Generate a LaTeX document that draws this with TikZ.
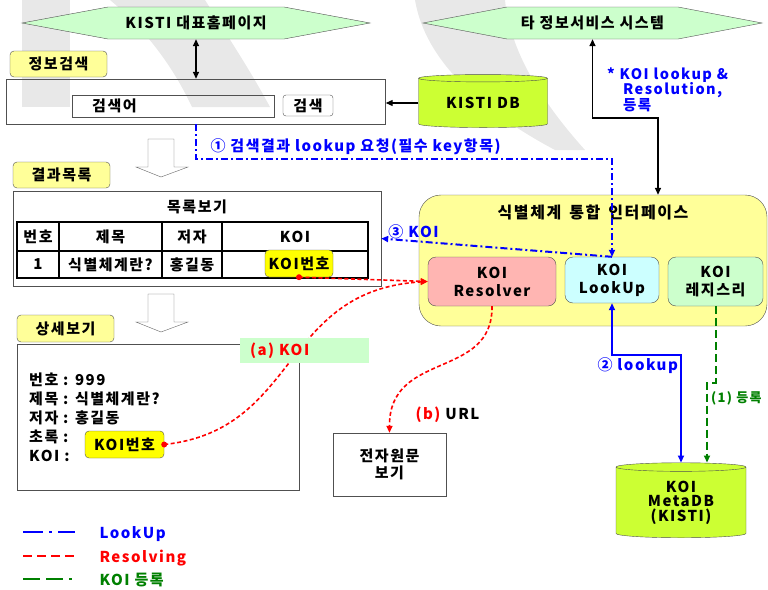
\documentclass[tikz,border=0pt]{standalone}
\usepackage{fontspec}
\setmainfont{Noto Sans CJK KR}[LetterSpace=10]
\usetikzlibrary{arrows.meta,calc,shapes.geometric}
\definecolor{hexgreen}{RGB}{204,255,204}
\definecolor{tagyellow}{RGB}{255,255,153}
\definecolor{dbgreen}{RGB}{204,255,51}
\definecolor{respink}{RGB}{255,181,178}
\definecolor{lookcyan}{RGB}{204,255,255}
\definecolor{koiyellow}{RGB}{255,255,0}
\definecolor{regdark}{RGB}{0,128,0}
\definecolor{markgray}{RGB}{232,232,232}
\definecolor{edge}{RGB}{80,80,80}
\newcommand\basefont{\fontsize{15}{18}\selectfont\bfseries}

\tikzset{
  tag/.style={draw=edge,fill=tagyellow,rounded corners=4pt,minimum width=97pt,minimum height=26pt,inner sep=0pt},
  plainbox/.style={draw=edge,minimum width=#1,inner sep=0pt},
  cell/.style={inner sep=0pt},
  module/.style={draw=edge,rounded corners=8pt,align=center,inner sep=0pt,minimum height=49pt},
  koino/.style={draw=edge,fill=koiyellow,rounded corners=4pt,minimum width=#1,minimum height=27pt,inner sep=0pt},
  dbase/.style={cylinder,shape border rotate=90,draw=edge,fill=dbgreen,inner sep=0pt,align=center},
  lookupline/.style={blue,line width=2pt,dash pattern=on 7pt off 3pt on 2pt off 3pt},
  resolveline/.style={red,line width=1.6pt,dash pattern=on 4pt off 2.5pt},
  regline/.style={regdark,line width=2pt,dash pattern=on 8pt off 4pt},
  headed/.style={-{Triangle[length=7pt,width=6pt]}},
  twohead/.style={{Triangle[length=7pt,width=6pt]}-{Triangle[length=7pt,width=6pt]}},
}

\begin{document}
\begin{tikzpicture}[x=1pt,y=-1pt,font=\basefont]
\useasboundingbox (0,0) rectangle (768,589);

% watermark behind everything
\fill[markgray] (22,0) rectangle (70,107);
\fill[markgray] (110,0) -- (205,0) .. controls (230,40) and (250,70) .. (270,107) -- (192,107) .. controls (170,60) and (140,25) .. (110,0) -- cycle;
\fill[markgray] (415,0) -- (505,0) .. controls (510,50) and (540,100) .. (585,150) -- (555,150) .. controls (480,110) and (425,60) .. (415,0) -- cycle;

% top systems
\draw[draw=edge,fill=hexgreen] (22,23) -- (108,7) -- (284,7) -- (370,23) -- (284,39) -- (108,39) -- cycle;
\node[minimum width=348pt,minimum height=32pt,inner sep=0pt] (home) at (196,23) {KISTI 대표홈페이지};
\draw[draw=edge,fill=hexgreen] (423,23) -- (507,7) -- (678,7) -- (762,23) -- (678,39) -- (507,39) -- cycle;
\node[minimum width=339pt,minimum height=32pt,inner sep=0pt] (other) at (592.5,23) {타 정보서비스 시스템};

% search
\node[tag] (tsearch) at (58.5,64) {정보검색};
\node[plainbox=379pt,minimum height=45pt] (search) at (196,101.5) {};
\node[draw=edge,anchor=west,text width=162pt,inner xsep=20pt,inner ysep=0pt,minimum height=22pt] (query) at (72,106) {검색어};
\node[draw=edge,rounded corners=3pt,minimum width=50pt,minimum height=21pt,inner sep=0pt] (go) at (308,105.5) {검색};
\node[dbase,aspect=0.1,minimum width=129pt,minimum height=53pt] (kdb) at (483,103) {KISTI DB};

% result list
\node[tag] (tresult) at (61.5,175) {결과목록};
\node[plainbox=368pt,minimum height=95pt] (result) at (197,238.5) {};
\node[cell] (listtitle) at (197,207) {목록보기};
\draw[line width=1.4pt] (17,222) rectangle (368,278);
\draw[line width=1.4pt] (17,251) -- (368,251);
\foreach \x in {59,162,222}
  \draw[line width=1.4pt] (\x,222) -- (\x,278);
\node[cell] (hno) at (38,236.5) {번호};
\node[cell] (htitle) at (110.5,236.5) {제목};
\node[cell] (hauthor) at (192,236.5) {저자};
\node[cell] (hkoi) at (295,236.5) {KOI};
\node[cell] (rno) at (38,264.5) {1};
\node[cell] (rtitle) at (110.5,264.5) {식별체계란?};
\node[cell] (rauthor) at (192,264.5) {홍길동};
\node[koino=68pt] (koirow) at (299,263.5) {KOI번호};

% step arrows
\foreach \y in {139,294}
  \draw[draw=black!60,fill=white] (148,\y) -- (174,\y) -- (174,\y+28) -- (188,\y+28) -- (161,\y+38) -- (136,\y+28) -- (148,\y+28) -- cycle;

% detail view
\node[tag,minimum height=27pt] (tdetail) at (65.5,328.5) {상세보기};
\node[plainbox=282pt,minimum height=146pt] (detail) at (158,417) {};
\node[anchor=north west,align=left,inner sep=0pt,font=\fontsize{15}{19}\selectfont\bfseries] (fields) at (29,373) {번호 : 999\\제목 : 식별체계란?\\저자 : 홍길동\\초록 :\\KOI :};
\node[koino=79pt] (koidet) at (124.5,444.5) {KOI번호};
\node[plainbox=113pt,minimum height=63pt,align=center,font=\fontsize{15}{17}\selectfont\bfseries] (epaper) at (389.5,464.5) {전자원문\\보기};

% interface
\node[draw=edge,fill=tagyellow,rounded corners=22pt,minimum width=348pt,minimum height=131pt,inner sep=0pt] (iface) at (593,260.5) {};
\node[font=\fontsize{16}{18}\selectfont\bfseries] (ititle) at (593,212) {식별체계\hspace{0.5em}통합\hspace{0.5em}인터페이스};
\node[module,fill=respink,minimum width=128pt] (resolver) at (492,281.5) {KOI\\Resolver};
\node[module,fill=lookcyan,minimum width=94pt,minimum height=46pt] (lookup) at (612,280) {KOI\\LookUp};
\node[module,fill=hexgreen,minimum width=95pt] (registry) at (715.5,281.5) {KOI\\레지스리};
\node[dbase,aspect=0.13,minimum width=130pt,minimum height=75pt,font=\fontsize{15}{14.5}\selectfont\bfseries] (mdb) at (681,502.5) {KOI\\MetaDB\\(KISTI)};

% black links
\coordinate (kbend) at (658,118);
\draw[twohead,line width=1.5pt] (home.south) -- (search.north);
\draw[headed,line width=1.2pt] (kdb.west) -- (kdb.west -| search.east);
\draw[twohead,line width=1.5pt] (other.south) |- (kbend) -- (kbend |- iface.north);
\node[anchor=north west,align=left,text=blue,inner sep=0pt,font=\fontsize{14.5}{15.5}\selectfont\bfseries] (note) at (607,67) {* KOI lookup \&\\\hspace*{1.1em}Resolution,\\\hspace*{1.1em}등록};

% lookup
\coordinate (qbend) at (612,159);
\draw[lookupline,headed] (search.south) |- (qbend) -- (lookup.north);
\node[anchor=west,text=blue] (qlabel) at (207,147) {① 검색결과 lookup 요청(필수 key항목)};
\draw[lookupline,headed] (lookup.north) -- node[pos=0.86,anchor=south,inner sep=1pt,text=blue] (klabel) {③ KOI} (result.east);
\coordinate (lbend) at (681,355);
\draw[twohead,blue,line width=2pt] (lookup.south) |- (lbend) -- (lbend |- mdb.north);
\node[anchor=west,text=blue] (llabel) at (594,366) {② lookup};

% registration
\coordinate (rbend) at (707,383);
\draw[regline,headed] (registry.south) |- (rbend) -- (rbend |- mdb.north);
\node[anchor=west,text=regdark,inner sep=0pt,font=\fontsize{13}{15}\selectfont\bfseries] (rlabel) at (711,398) {(1) 등록};

% resolving
\fill[red] (koirow.south) circle (3);
\draw[resolveline,headed] (koirow.south) -- (resolver.west);
\fill[red] (koidet.east) circle (3);
\draw[resolveline,headed] (koidet.east) .. controls (300,430) and (280,290) .. (resolver.west);
\node[fill=hexgreen,minimum width=129pt,minimum height=25pt,text width=109pt,inner xsep=10pt,inner ysep=0pt,text=red] (alabel) at (304.5,350.5) {(a) KOI};
\draw[resolveline,headed] (resolver.south) .. controls (493,380) and (389,350) .. (epaper.north);
\node[anchor=west] (blabel) at (412,415) {\textcolor{red}{(b)} URL};

% legend
\draw[blue,line width=2pt,dash pattern=on 20pt off 6pt on 3pt off 6pt] (23,532) -- (75,532);
\node[anchor=west,text=blue] (leglook) at (96,534) {LookUp};
\draw[red,line width=2.5pt,dash pattern=on 9pt off 5pt] (23,556) -- (75,556);
\node[anchor=west,text=red] (legres) at (96,558) {Resolving};
\draw[regdark,line width=2pt,dash pattern=on 17pt off 6pt on 17pt off 6pt on 3pt off 6pt] (23,579) -- (75,579);
\node[anchor=west,text=regdark] (legreg) at (96,580) {KOI 등록};

\end{tikzpicture}
\end{document}
